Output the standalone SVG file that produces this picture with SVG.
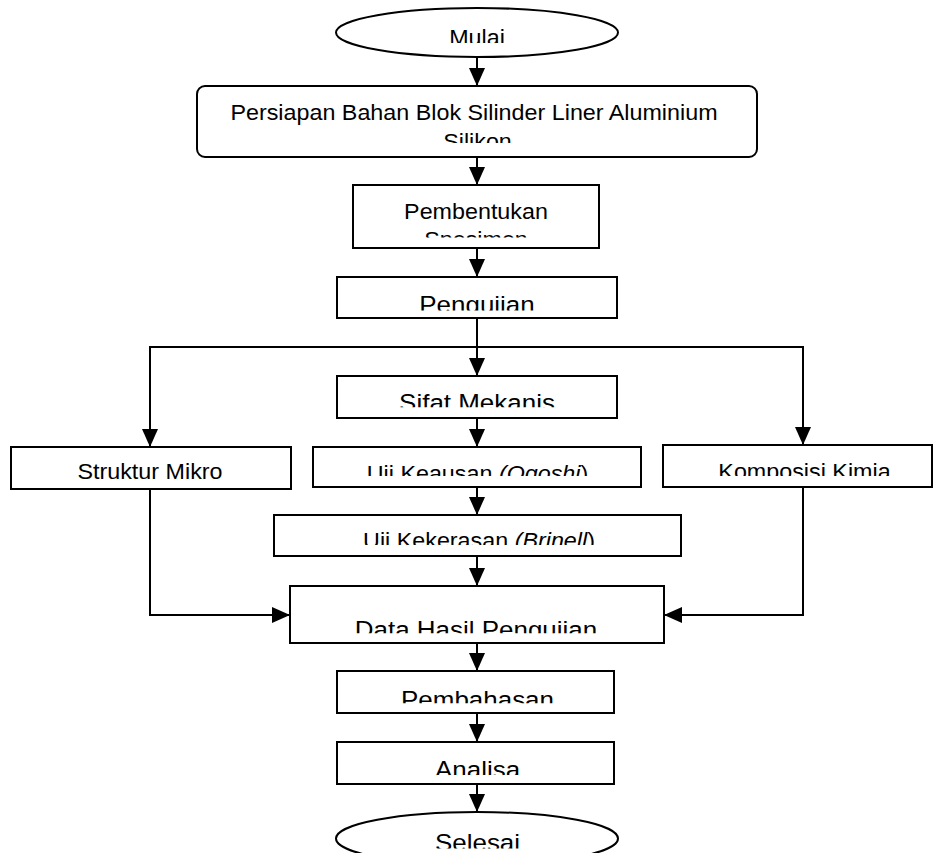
<svg xmlns="http://www.w3.org/2000/svg" width="933" height="855" viewBox="0 0 933 855">
<style>
.box{fill:#fff;stroke:#000;stroke-width:2}
.t1{font-family:"Liberation Sans",Arial,sans-serif;font-size:22px;fill:#000;text-anchor:middle}
.t2{font-family:"Liberation Sans",Arial,sans-serif;font-size:24.5px;fill:#000;text-anchor:middle}
.it{font-style:italic}
.con{fill:none;stroke:#000;stroke-width:2}
.arr{marker-end:url(#ah)}
</style>
<defs>
<marker id="ah" markerUnits="userSpaceOnUse" markerWidth="18" markerHeight="16" refX="18" refY="8" orient="auto">
<path d="M0,0 L18,8 L0,16 Z" fill="#000"/>
</marker>
<clipPath id="cMulai"><rect x="0" y="0" width="933" height="43"/></clipPath>
<clipPath id="cSilikon"><rect x="0" y="0" width="933" height="143"/></clipPath>
<clipPath id="cSpes"><rect x="0" y="0" width="933" height="237.5"/></clipPath>
<clipPath id="cPeng"><rect x="0" y="0" width="933" height="310.5"/></clipPath>
<clipPath id="cSifat"><rect x="0" y="0" width="933" height="407.3"/></clipPath>
<clipPath id="cRow"><rect x="0" y="0" width="933" height="476"/></clipPath>
<clipPath id="cStruk"><rect x="0" y="0" width="933" height="479"/></clipPath>
<clipPath id="cKek"><rect x="0" y="0" width="933" height="545"/></clipPath>
<clipPath id="cData"><rect x="0" y="0" width="933" height="633.3"/></clipPath>
<clipPath id="cBahas"><rect x="0" y="0" width="933" height="703.3"/></clipPath>
<clipPath id="cAnal"><rect x="0" y="0" width="933" height="775"/></clipPath>
<clipPath id="cSelShape"><rect x="0" y="0" width="933" height="853"/></clipPath>
<clipPath id="cSel"><rect x="0" y="0" width="933" height="848.5"/></clipPath>
</defs>

<g id="connectors">
<line class="con arr" x1="477" y1="57" x2="477" y2="86"/>
<line class="con arr" x1="477" y1="157" x2="477" y2="185"/>
<line class="con arr" x1="477" y1="248" x2="477" y2="277"/>
<line class="con arr" x1="477" y1="318" x2="477" y2="376"/>
<path class="con arr" d="M477,347 H150 V447"/>
<path class="con arr" d="M477,347 H803 V445"/>
<line class="con arr" x1="477" y1="418" x2="477" y2="447"/>
<line class="con arr" x1="477" y1="487" x2="477" y2="515"/>
<line class="con arr" x1="477" y1="556" x2="477" y2="586"/>
<path class="con arr" d="M150,489 V615 H290"/>
<path class="con arr" d="M803,487 V615 H664"/>
<line class="con arr" x1="477" y1="643" x2="477" y2="671"/>
<line class="con arr" x1="477" y1="713" x2="477" y2="742"/>
<line class="con arr" x1="477" y1="784" x2="477" y2="812"/>
</g>

<g id="mulai">
<ellipse class="box" cx="477" cy="32.5" rx="141" ry="24.5"/>
<g clip-path="url(#cMulai)"><text class="t1" transform="translate(477,45) scale(1.06,1)">Mulai</text></g>
</g>

<g id="persiapan">
<rect class="box" x="197" y="86" width="560" height="71" rx="8"/>
<text class="t1" transform="translate(474,120) scale(1.06,1)">Persiapan Bahan Blok Silinder Liner Aluminium</text>
<g clip-path="url(#cSilikon)"><text class="t1" transform="translate(477.5,149) scale(1.06,1)">Silikon</text></g>
</g>

<g id="pembentukan">
<rect class="box" x="353" y="185" width="246" height="63"/>
<text class="t1" transform="translate(476,218.5) scale(1.06,1)">Pembentukan</text>
<g clip-path="url(#cSpes)"><text class="t1" transform="translate(476,247) scale(1.06,1)">Spesimen</text></g>
</g>

<g id="pengujian">
<rect class="box" x="337" y="277" width="280" height="41"/>
<g clip-path="url(#cPeng)"><text class="t2" transform="translate(477,312.5) scale(1.06,1)">Pengujian</text></g>
</g>

<g id="sifat-mekanis">
<rect class="box" x="337" y="376" width="280" height="42"/>
<g clip-path="url(#cSifat)"><text class="t2" transform="translate(477,411) scale(1.06,1)">Sifat Mekanis</text></g>
</g>

<g id="struktur-mikro">
<rect class="box" x="11" y="447" width="280" height="42"/>
<g clip-path="url(#cStruk)"><text class="t1" transform="translate(150,478.5) scale(1.06,1)">Struktur Mikro</text></g>
</g>

<g id="uji-keausan">
<rect class="box" x="313" y="447" width="328" height="40"/>
<g clip-path="url(#cRow)"><text class="t1" transform="translate(477.5,481) scale(1.06,1)">Uji Keausan <tspan class="it">(Ogoshi</tspan>)</text></g>
</g>

<g id="komposisi-kimia">
<rect class="box" x="663" y="445" width="269" height="42"/>
<g clip-path="url(#cRow)"><text class="t1" transform="translate(804.5,478.5) scale(1.06,1)">Komposisi Kimia</text></g>
</g>

<g id="uji-kekerasan">
<rect class="box" x="274" y="515" width="407" height="41"/>
<g clip-path="url(#cKek)"><text class="t1" transform="translate(479,547.5) scale(1.06,1)">Uji Kekerasan <tspan class="it">(Brinell</tspan>)</text></g>
</g>

<g id="data-hasil">
<rect class="box" x="290" y="586" width="374" height="57"/>
<g clip-path="url(#cData)"><text class="t2" transform="translate(476,637.5) scale(1.06,1)">Data Hasil Pengujian</text></g>
</g>

<g id="pembahasan">
<rect class="box" x="337" y="671" width="277" height="42"/>
<g clip-path="url(#cBahas)"><text class="t2" transform="translate(477.5,707.5) scale(1.06,1)">Pembahasan</text></g>
</g>

<g id="analisa">
<rect class="box" x="337" y="742" width="277" height="42"/>
<g clip-path="url(#cAnal)"><text class="t2" transform="translate(477.5,777.5) scale(1.06,1)">Analisa</text></g>
</g>

<g id="selesai">
<g clip-path="url(#cSelShape)"><ellipse class="box" cx="477" cy="838.5" rx="141" ry="26.5"/></g>
<g clip-path="url(#cSel)"><text class="t2" transform="translate(477.5,851) scale(1.06,1)">Selesai</text></g>
</g>
</svg>
